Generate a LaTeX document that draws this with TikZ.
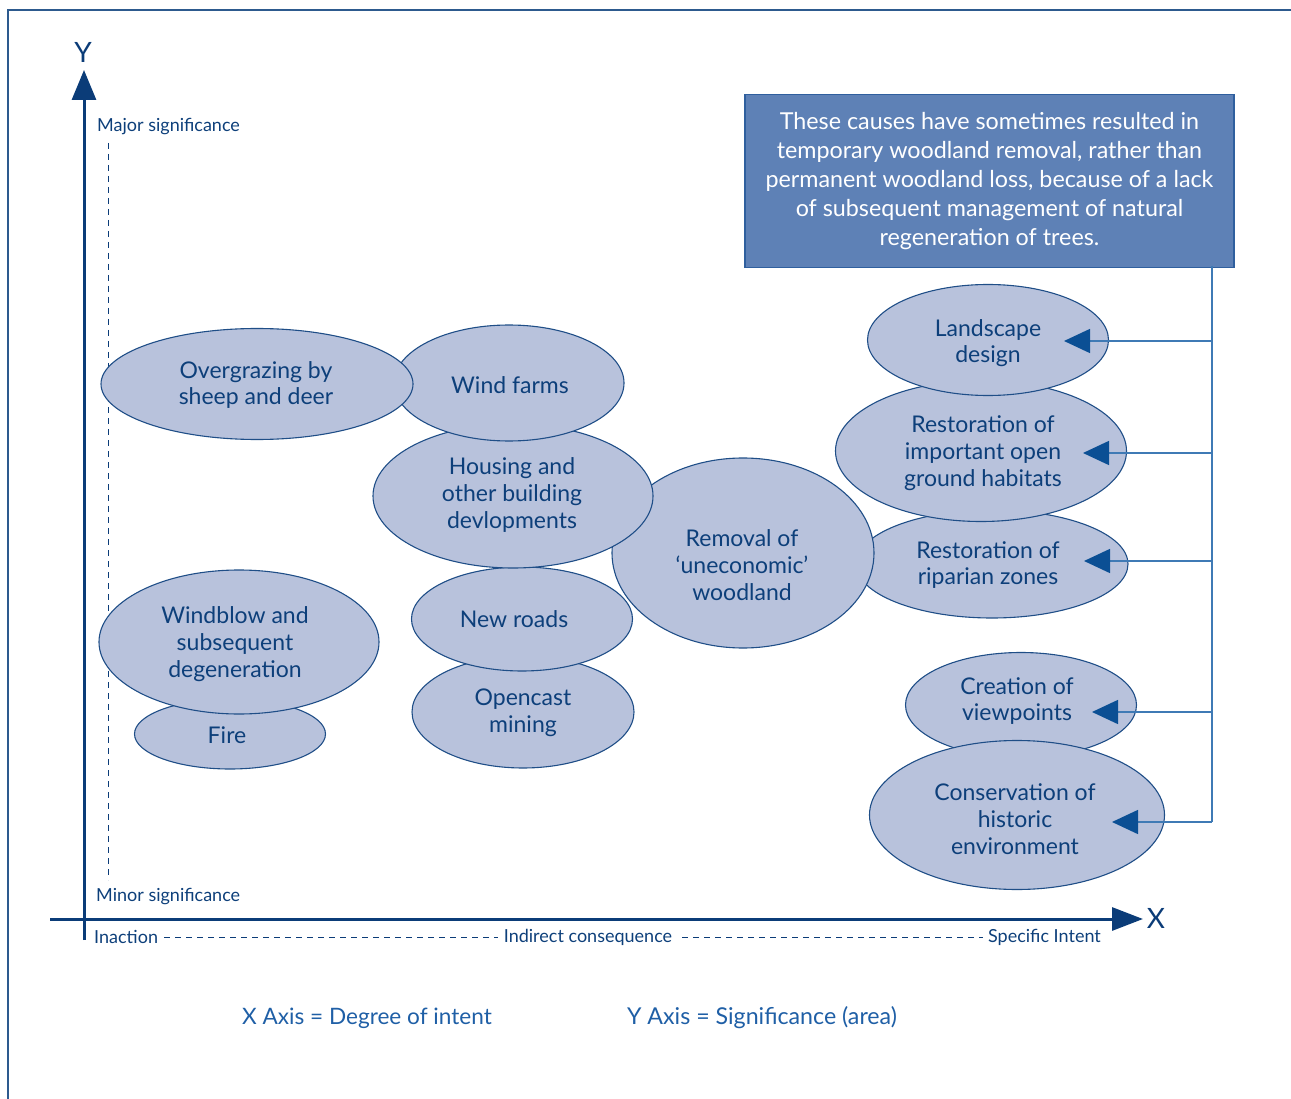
\documentclass[tikz,border=0pt]{standalone}
\usepackage{fontspec}
\setmainfont{Lato}
\usetikzlibrary{shapes.geometric,arrows.meta}
\definecolor{ink}{HTML}{0D3F7A}
\definecolor{axisblue}{HTML}{0B3C78}
\definecolor{bubble}{HTML}{B8C2DC}
\definecolor{bubbleedge}{HTML}{1F4E87}
\definecolor{boxfill}{HTML}{5E81B6}
\definecolor{boxedge}{HTML}{2F5F9E}
\definecolor{link}{HTML}{3F7AB5}
\definecolor{tipblue}{HTML}{0B4F94}
\definecolor{frameblue}{HTML}{2D5A8E}
\definecolor{caption}{HTML}{1F5FA6}
\begin{document}
\begin{tikzpicture}[x=1pt,y=-1pt,
  cause/.style={ellipse,draw=bubbleedge,line width=1.1pt,fill=bubble,inner sep=0pt},
  causetext/.style={text=ink,align=center,inner sep=0pt,font=\fontsize{23}{26.7}\selectfont},
  axislabel/.style={text=ink,font=\fontsize{18}{20}\selectfont,inner sep=0pt},
  link/.style={draw=link,line width=1.5pt},
  pointer/.style={link,-{Triangle[length=26pt,width=24pt,fill=tipblue,color=tipblue]}},
  axisline/.style={draw=axisblue,line width=3pt},
  guide/.style={draw=axisblue,line width=0.9pt,dash pattern=on 6pt off 5pt}]
\useasboundingbox (0,0) rectangle (1291,1099);

% outer frame
\draw[frameblue,line width=1.5pt] (1291,10) -- (8,10) -- (8,1099);

% axes
\coordinate (yfoot) at (84,940);
\coordinate (ytip) at (84,70);
\coordinate (xfoot) at (50,919);
\coordinate (xtip) at (1143,919);
\draw[axisline,-{Triangle[length=30pt,width=24pt]}] (yfoot) -- (ytip);
\draw[axisline,-{Triangle[length=31pt,width=23pt]}] (xfoot) -- (xtip);
\node[text=axisblue,font=\fontsize{28}{30}\selectfont] (ylab) at (83,52) {Y};
\node[text=axisblue,font=\fontsize{28}{30}\selectfont] (xlab) at (1156,918) {X};

% significance scale
\node[axislabel,anchor=west] (major) at (97,127) {Major significance};
\node[axislabel,anchor=west] (minor) at (96,897) {Minor significance};
\coordinate (gtop) at (108,143);
\coordinate (gbot) at (108,880);
\draw[guide] (gtop) -- (gbot);

% intent scale
\node[axislabel,anchor=west] (inaction) at (94,937) {Inaction};
\node[axislabel] (indirect) at (588,937) {Indirect consequence};
\node[axislabel,anchor=east] (specific) at (1101,937) {Specific Intent};
\draw[guide] (inaction.east) ++(6,0) -- ([xshift=-6pt]indirect.west);
\draw[guide] (indirect.east) ++(10,0) -- ([xshift=-5pt]specific.west);

% causes, back to front
\node[cause,minimum width=222pt,minimum height=112pt] (opencast) at (523,712) {};
\node[cause,minimum width=221pt,minimum height=104pt] (roads) at (522,619) {};
\node[cause,minimum width=272pt,minimum height=108pt] (riparian) at (992,564) {};
\node[cause,minimum width=262pt,minimum height=190pt] (removal) at (743,553) {};
\node[cause,minimum width=280pt,minimum height=144pt] (housing) at (513,496) {};
\node[cause,minimum width=230pt,minimum height=116pt] (wind) at (509,383) {};
\node[cause,minimum width=312pt,minimum height=111pt] (overgrazing) at (257,384) {};
\node[cause,minimum width=191pt,minimum height=70pt] (fire) at (230,734) {};
\node[cause,minimum width=280pt,minimum height=144pt] (windblow) at (239,642) {};
\node[cause,minimum width=291pt,minimum height=141pt] (openground) at (981,451) {};
\node[cause,minimum width=241pt,minimum height=111pt] (landscape) at (988,340) {};
\node[cause,minimum width=231pt,minimum height=105pt] (viewpoints) at (1021,705) {};
\node[cause,minimum width=295pt,minimum height=149pt] (heritage) at (1017,815) {};

% their labels
\node[causetext] (opencast-t) at (523,713) {Opencast\\mining};
\node[causetext] (roads-t) at (514,619) {New roads};
\node[causetext] (riparian-t) at (988,565) {Restoration of\\riparian zones};
\node[causetext] (removal-t) at (742,565) {Removal of\\‘uneconomic’\\woodland};
\node[causetext] (housing-t) at (512,495) {Housing and\\other building\\devlopments};
\node[causetext] (wind-t) at (510,385) {Wind farms};
\node[causetext] (overgrazing-t) at (256,385) {Overgrazing by\\sheep and deer};
\node[causetext] (fire-t) at (227,735) {Fire};
\node[causetext] (windblow-t) at (235,644) {Windblow and\\subsequent\\degeneration};
\node[causetext] (openground-t) at (983,453) {Restoration of\\important open\\ground habitats};
\node[causetext] (landscape-t) at (988,343) {Landscape\\design};
\node[causetext] (viewpoints-t) at (1017,701) {Creation of\\viewpoints};
\node[causetext] (heritage-t) at (1015,819) {Conservation of\\historic\\environment};

% note box
\node[draw=boxedge,line width=1.2pt,fill=boxfill,text=white,align=center,
  minimum width=489pt,minimum height=173pt,inner sep=0pt,
  font=\fontsize{23.3}{29}\selectfont] (note) at (989.5,181)
  {These causes have sometimes resulted in\\temporary woodland removal, rather than\\permanent woodland loss, because of a lack\\of subsequent management of natural\\regeneration of trees.};

% connectors from the note to the intentional causes
\coordinate (trunk) at (1212,266);
\coordinate (b1) at (1212,341);
\coordinate (b2) at (1212,453);
\coordinate (b3) at (1212,561);
\coordinate (b4) at (1212,712);
\coordinate (b5) at (1212,822);
\coordinate (t1) at (1064,341);
\coordinate (t2) at (1083,453);
\coordinate (t3) at (1084,561);
\coordinate (t4) at (1092,712);
\coordinate (t5) at (1112,822);
\draw[link] (trunk) -- (b5);
\draw[pointer] (b1) -- (t1);
\draw[pointer] (b2) -- (t2);
\draw[pointer] (b3) -- (t3);
\draw[pointer] (b4) -- (t4);
\draw[pointer] (b5) -- (t5);

% axis key
\node[text=caption,font=\fontsize{22.6}{26}\selectfont] (xkey) at (367,1018) {X Axis = Degree of intent};
\node[text=caption,font=\fontsize{23.2}{26}\selectfont] (ykey) at (762,1018) {Y Axis = Significance (area)};
\end{tikzpicture}
\end{document}
